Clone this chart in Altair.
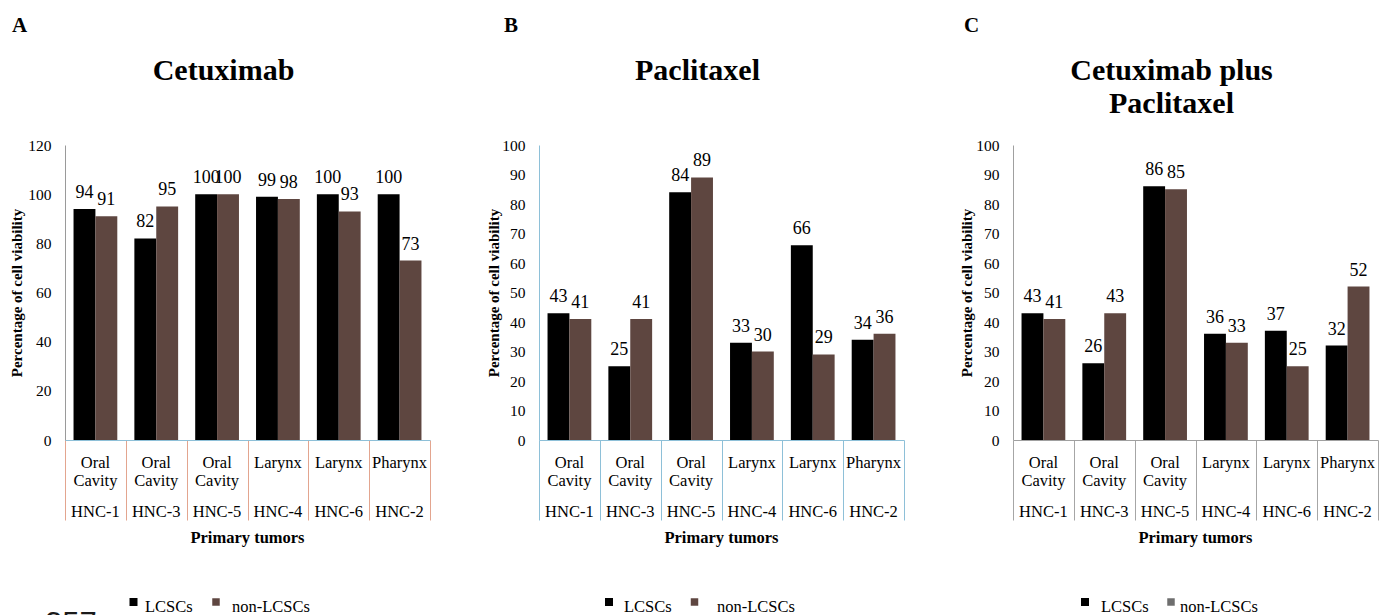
import altair as alt
import pandas as pd

# ---------------- data ----------------
tumors = ["HNC-1", "HNC-3", "HNC-5", "HNC-4", "HNC-6", "HNC-2"]
sites = ["Oral Cavity", "Oral Cavity", "Oral Cavity", "Larynx", "Larynx", "Pharynx"]
series = ["LCSCs", "non-LCSCs"]

cetuximab_lcsc = [94, 82, 100, 99, 100, 100]
cetuximab_non = [91, 95, 100, 98, 93, 73]

paclitaxel_lcsc = [43, 25, 84, 33, 66, 34]
paclitaxel_non = [41, 41, 89, 30, 29, 36]

combo_lcsc = [43, 26, 86, 36, 37, 32]
combo_non = [41, 43, 85, 33, 25, 52]

y_title = "Percentage of cell viability"
x_title = "Primary tumors"

# ---------------- layout / style ----------------
W, H = 365, 295
SERIF = "'Liberation Serif', 'Times New Roman', 'DejaVu Serif', serif"
SANS = "'Liberation Sans', Arial, sans-serif"


def one_line(txt, key="t"):
    return alt.Chart(pd.DataFrame({key: [txt]}))


def panel(letter, letter_x, title_lines, lcsc, non, ymax, ystep, hatch,
          ydom, xdom, divider, ytitle_x, leg, anchor=False, page_no=None):
    rows = []
    for t, s, a, b in zip(tumors, sites, lcsc, non):
        rows.append({"tumor": t, "site": s, "series": series[0], "value": a})
        rows.append({"tumor": t, "site": s, "series": series[1], "value": b})
    df = pd.DataFrame(rows)
    base = alt.Chart(df)

    xenc = alt.X(
        "tumor:N", sort=tumors,
        scale=alt.Scale(paddingInner=0, paddingOuter=0),
        axis=alt.Axis(title=None, labels=False, ticks=True, tickBand="extent",
                      tickSize=80, tickColor=divider, tickWidth=1,
                      domainColor=xdom, domainWidth=1, grid=False),
    )
    xoff = alt.XOffset("series:N", sort=series,
                       scale=alt.Scale(paddingInner=0, paddingOuter=0.39))
    tick_vals = list(range(0, ymax + 1, ystep))
    yenc = alt.Y(
        "value:Q",
        scale=alt.Scale(domain=[0, ymax], nice=False, zero=True),
        axis=alt.Axis(values=tick_vals, tickCount=len(tick_vals), title=y_title,
                      ticks=False, tickSize=0, labelPadding=14, labelOverlap=False,
                      labelFont=SERIF, labelFontSize=15.5, labelColor="black",
                      domainColor=ydom, domainWidth=1, grid=False,
                      titleFont=SERIF, titleFontSize=15, titleFontWeight="bold",
                      titleColor="black", titleX=ytitle_x, titleY=H / 2,
                      titleAngle=270, titleAlign="center", titleBaseline="middle"),
    )
    color = alt.Color("series:N",
                      scale=alt.Scale(domain=series, range=["#000000", hatch]),
                      legend=None)

    bars = base.mark_bar().encode(x=xenc, xOffset=xoff, y=yenc, color=color)
    vals = base.mark_text(font=SERIF, fontSize=18, baseline="alphabetic",
                          dy=-11, color="black").encode(
        x=xenc, xOffset=xoff, y=yenc, text="value:Q")

    lab_df = pd.DataFrame({"tumor": tumors, "site": sites})
    site_txt = alt.Chart(lab_df).mark_text(
        font=SERIF, fontSize=16.5, baseline="top", lineBreak=" ",
        lineHeight=18, color="black").encode(
        x=xenc, y=alt.value(H + 15), text="site:N")
    id_txt = alt.Chart(lab_df).mark_text(
        font=SERIF, fontSize=16.5, baseline="alphabetic", color="black").encode(
        x=xenc, y=alt.value(H + 77), text="tumor:N")
    xt = one_line(x_title).mark_text(
        font=SERIF, fontSize=16.5, fontWeight="bold", color="black").encode(
        x=alt.value(W / 2), y=alt.value(H + 98), text="t:N")

    layers = [bars, vals, site_txt, id_txt, xt]

    for i, line in enumerate(title_lines):
        layers.append(one_line(line).mark_text(
            font=SERIF, fontSize=30, fontWeight="bold", color="black",
            baseline="alphabetic").encode(
            x=alt.value(W / 2 - 24), y=alt.value(-65 + 33 * i), text="t:N"))

    layers.append(one_line(letter).mark_text(
        font=SERIF, fontSize=21, fontWeight="bold", color="black",
        align="left", baseline="alphabetic").encode(
        x=alt.value(letter_x), y=alt.value(-113), text="t:N"))

    # legend (drawn by hand)
    sq1, tx1, sq2, tx2 = leg
    layers.append(one_line(series[0]).mark_square(size=64, color="#000000", opacity=1).encode(
        x=alt.value(sq1), y=alt.value(H + 162)))
    layers.append(one_line(series[1]).mark_square(size=56, color=hatch, opacity=1).encode(
        x=alt.value(sq2), y=alt.value(H + 162)))
    layers.append(one_line(series[0]).mark_text(
        font=SERIF, fontSize=16.5, align="left", color="black").encode(
        x=alt.value(tx1), y=alt.value(H + 167), text="t:N"))
    layers.append(one_line(series[1]).mark_text(
        font=SERIF, fontSize=16.5, align="left", color="black").encode(
        x=alt.value(tx2), y=alt.value(H + 167), text="t:N"))

    if page_no is not None:
        layers.append(one_line(page_no).mark_text(
            font=SANS, fontSize=31, align="left", color="#1a1a1a").encode(
            x=alt.value(-20), y=alt.value(H + 185), text="t:N"))

    if anchor:
        layers.append(one_line("").mark_rule(color="white", opacity=0, strokeWidth=1).encode(
            x=alt.value(-57), x2=alt.value(-57), y=alt.value(-137), y2=alt.value(-136)))

    return alt.layer(*layers).properties(width=W, height=H)


pA = panel("A", -53, ["Cetuximab"], cetuximab_lcsc, cetuximab_non, 120, 20,
           "#5e4640", "#9a9a9a", "#8ec0d8", "#e3a58f", -49,
           (68.5, 80, 151, 167), anchor=True, page_no="357")
pB = panel("B", -35, ["Paclitaxel"], paclitaxel_lcsc, paclitaxel_non, 100, 10,
           "#5e4640", "#8ec0d8", "#8ec0d8", "#8ec0d8", -46,
           (70, 85, 155.5, 178))
pC = panel("C", -49, ["Cetuximab plus", "Paclitaxel"], combo_lcsc, combo_non, 100, 10,
           "#6e6e6e", "#a0a0a0", "#a0a0a0", "#a6a6a6", -47,
           (72, 88, 158, 167))

chart = alt.hconcat(pA, pB, pC, spacing=109, bounds="flush").properties(
    padding=0, background="white"
).configure_view(stroke=None).configure_axis(labelOverlap=False)

chart.save("out.html", embed_options={"renderer": "svg", "actions": False})
